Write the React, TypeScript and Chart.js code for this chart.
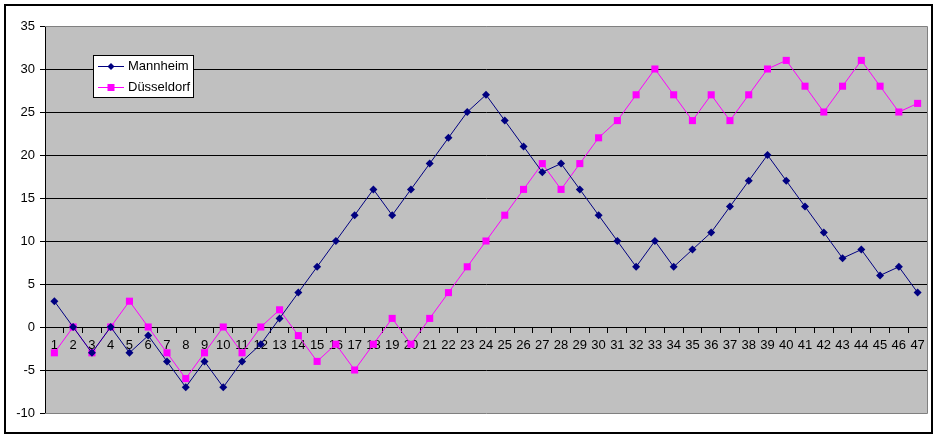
import React, { useEffect, useRef } from 'react';
import { Chart, registerables } from 'chart.js';

Chart.register(...registerables);

const categories = ['1','2','3','4','5','6','7','8','9','10','11','12','13','14','15','16','17','18','19','20','21','22','23','24','25','26','27','28','29','30','31','32','33','34','35','36','37','38','39','40','41','42','43','44','45','46','47'];

const mannheim = [3, 0, -3, 0, -3, -1, -4, -7, -4, -7, -4, -2, 1, 4, 7, 10, 13, 16, 13, 16, 19, 22, 25, 27, 24, 21, 18, 19, 16, 13, 10, 7, 10, 7, 9, 11, 14, 17, 20, 17, 14, 11, 8, 9, 6, 7, 4];

const duesseldorf = [-3, 0, -3, 0, 3, 0, -3, -6, -3, 0, -3, 0, 2, -1, -4, -2, -5, -2, 1, -2, 1, 4, 7, 10, 13, 16, 19, 16, 19, 22, 24, 27, 30, 27, 24, 27, 24, 27, 30, 31, 28, 25, 28, 31, 28, 25, 26];

const seriesNames = ['Mannheim', 'Düsseldorf'];
const yMin = -10;
const yMax = 35;
const yStep = 5;

const FONT = 'Arial, "Liberation Sans", sans-serif';

const framePlugin = {
  id: 'frame',
  beforeDraw(chart: any) {
    const { ctx, chartArea } = chart;
    ctx.save();
    ctx.fillStyle = '#ffffff';
    ctx.fillRect(0, 0, chart.width, chart.height);
    ctx.fillStyle = '#C0C0C0';
    ctx.fillRect(chartArea.left, chartArea.top, chartArea.right - chartArea.left, chartArea.bottom - chartArea.top);
    ctx.strokeStyle = '#000000';
    ctx.lineWidth = 2;
    ctx.strokeRect(5, 5, 927, 428);
    ctx.restore();
  },
  beforeDatasetsDraw(chart: any) {
    const { ctx, chartArea } = chart;
    ctx.save();
    ctx.strokeStyle = '#808080';
    ctx.lineWidth = 1;
    ctx.beginPath();
    ctx.moveTo(chartArea.left, Math.round(chartArea.top) + 0.5);
    ctx.lineTo(Math.round(chartArea.right) + 0.5, Math.round(chartArea.top) + 0.5);
    ctx.lineTo(Math.round(chartArea.right) + 0.5, Math.round(chartArea.bottom) + 0.5);
    ctx.lineTo(chartArea.left, Math.round(chartArea.bottom) + 0.5);
    ctx.stroke();
    ctx.restore();
  },
};

const legendPlugin = {
  id: 'boxLegend',
  afterDraw(chart: any) {
    const { ctx } = chart;
    const x = 93, y = 55, w = 100, h = 42;
    ctx.save();
    ctx.fillStyle = '#ffffff';
    ctx.fillRect(x, y, w, h);
    ctx.strokeStyle = '#000000';
    ctx.lineWidth = 1;
    ctx.strokeRect(x + 0.5, y + 0.5, w, h);
    chart.data.datasets.forEach((ds: any, i: number) => {
      const cy = 66.5 + i * 21;
      ctx.strokeStyle = ds.borderColor;
      ctx.lineWidth = 1;
      ctx.beginPath();
      ctx.moveTo(98, cy);
      ctx.lineTo(124, cy);
      ctx.stroke();
      ctx.fillStyle = ds.backgroundColor;
      ctx.beginPath();
      if (ds.pointStyle === 'rectRot') {
        const r = 3.5;
        ctx.moveTo(111, cy - r);
        ctx.lineTo(111 + r, cy);
        ctx.lineTo(111, cy + r);
        ctx.lineTo(111 - r, cy);
        ctx.closePath();
        ctx.fill();
      } else {
        ctx.fillRect(111 - 3.5, cy - 3.5, 7, 7);
      }
      ctx.fillStyle = '#000000';
      ctx.font = '13px ' + FONT;
      ctx.textBaseline = 'middle';
      ctx.textAlign = 'left';
      ctx.fillText(ds.label, 128, cy);
    });
    ctx.restore();
  },
};

export default function App() {
  const canvasRef = useRef<HTMLCanvasElement | null>(null);

  useEffect(() => {
    document.body.style.margin = '0';
    const canvas = canvasRef.current;
    if (!canvas) return;
    const chart = new Chart(canvas, {
      type: 'line',
      data: {
        labels: categories,
        datasets: [
          {
            label: seriesNames[0],
            data: mannheim,
            borderColor: '#000080',
            backgroundColor: '#000080',
            borderWidth: 1,
            pointStyle: 'rectRot',
            pointRadius: 4,
            pointBorderWidth: 0,
            pointBackgroundColor: '#000080',
            tension: 0,
          },
          {
            label: seriesNames[1],
            data: duesseldorf,
            borderColor: '#FF00FF',
            backgroundColor: '#FF00FF',
            borderWidth: 1,
            pointStyle: 'rect',
            pointRadius: 5,
            pointBorderWidth: 0,
            pointBackgroundColor: '#FF00FF',
            tension: 0,
          },
        ],
      },
      options: {
        responsive: false,
        animation: false,
        devicePixelRatio: 1,
        layout: { padding: { left: 0, top: 26, right: 13, bottom: 26 } },
        plugins: {
          legend: { display: false },
          tooltip: { enabled: false },
        },
        scales: {
          x: {
            type: 'category',
            position: { y: 0 } as any,
            offset: true,
            grid: {
              offset: true,
              drawOnChartArea: false,
              drawTicks: true,
              tickLength: 5,
              tickColor: '#000000',
              color: '#000000',
            },
            border: { display: true, color: '#000000' },
            ticks: {
              autoSkip: false,
              maxRotation: 0,
              minRotation: 0,
              padding: 6,
              color: '#000000',
              font: { family: FONT, size: 13 },
            },
          },
          y: {
            min: yMin,
            max: yMax,
            ticks: {
              stepSize: yStep,
              padding: 5,
              color: '#000000',
              font: { family: FONT, size: 13 },
            },
            grid: {
              color: (c: any) => (c.tick && (c.tick.value === yMax || c.tick.value === yMin) ? 'rgba(0,0,0,0)' : '#000000'),
              tickColor: '#000000',
              tickLength: 5,
              drawTicks: true,
            },
            border: { display: true, color: '#000000' },
            afterFit: (s: any) => {
              s.width = 45;
            },
          },
        },
      } as any,
      plugins: [framePlugin, legendPlugin],
    });
    return () => chart.destroy();
  }, []);

  return (
    <div style={{ position: 'absolute', left: 0, top: 0, width: 940, height: 439 }}>
      <canvas ref={canvasRef} width={940} height={439} style={{ width: 940, height: 439 }} />
    </div>
  );
}
